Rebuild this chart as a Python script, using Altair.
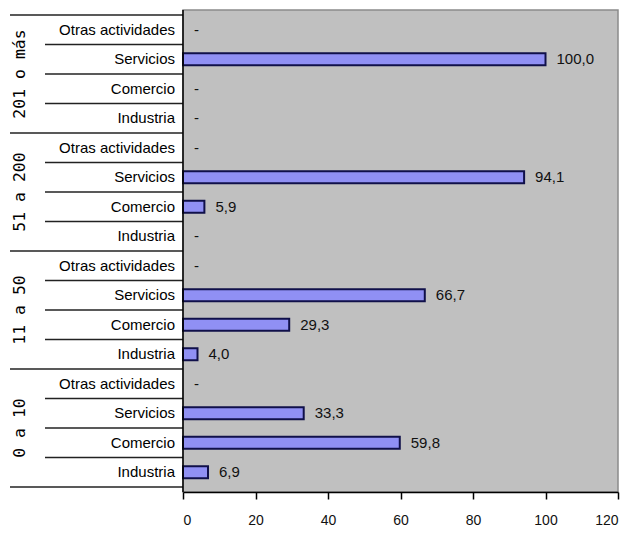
import altair as alt
import pandas as pd

groups = ["201 o más", "51 a 200", "11 a 50", "0 a 10"]
sectors = ["Otras actividades", "Servicios", "Comercio", "Industria"]
values = {
    "201 o más": [None, 100.0, None, None],
    "51 a 200": [None, 94.1, 5.9, None],
    "11 a 50": [None, 66.7, 29.3, 4.0],
    "0 a 10": [None, 33.3, 59.8, 6.9],
}
x_ticks = [0, 20, 40, 60, 80, 100, 120]

recs = []
idx = 0
for g in groups:
    for j, s in enumerate(sectors):
        v = values[g][j]
        recs.append({
            "grupo": g, "sector": s, "idx": idx, "valor": v,
            "vpos": v if v is not None else 0,
            "etiqueta": (f"{v:.1f}".replace(".", ",") if v is not None else "-"),
            "sep": idx + 0.5, "last": j == len(sectors) - 1,
        })
        idx += 1
df = pd.DataFrame(recs)
bars_df = df[df["valor"].notna()]
grp_df = df.groupby("grupo", sort=False)["idx"].mean().reset_index()
sub_sep = df[~df["last"]][["sep"]]
long_sep = pd.concat([pd.DataFrame({"sep": [-0.5]}), df[df["last"]][["sep"]]])

W, H = 435, 482
yscale = alt.Scale(domain=[-0.5, len(df) - 0.5], reverse=True, nice=False, zero=False)
xscale = alt.Scale(domain=[0, 120], nice=False)
Y = alt.Y("idx:Q", scale=yscale, axis=None)

base_x = alt.X("vpos:Q", scale=xscale,
               axis=alt.Axis(values=x_ticks, title=None, grid=False, domainColor="#000",
                             domainWidth=1.5, tickColor="#000", tickSize=7, tickWidth=1.5,
                             labelFont="Liberation Sans", labelFontSize=14,
                             labelColor="#111", labelPadding=14))

bars = alt.Chart(bars_df).mark_bar(orient="horizontal", size=12, color="#9090f4",
                                   stroke="#10104a", strokeWidth=2).encode(
    x=base_x, x2=alt.datum(0), y=Y)

vals = alt.Chart(df).mark_text(align="left", dx=11, font="Liberation Sans", fontSize=15,
                               color="#111").encode(
    x=alt.X("vpos:Q", scale=xscale), y=Y, text="etiqueta:N")

sub_labels = alt.Chart(df).mark_text(align="right", baseline="middle", font="Liberation Sans",
                                     fontSize=15, color="#000").encode(
    x=alt.value(-8), y=Y, text="sector:N")

grp_labels = alt.Chart(grp_df).mark_text(angle=270, align="center", baseline="middle",
                                         font="DejaVu Sans Mono", fontSize=16.5, color="#000").encode(
    x=alt.value(-163), y=Y, text="grupo:N")

sub_rules = alt.Chart(sub_sep).mark_rule(color="#222", strokeWidth=1.5).encode(
    x=alt.value(-138), x2=alt.value(0), y=alt.Y("sep:Q", scale=yscale, axis=None))
long_rules = alt.Chart(long_sep).mark_rule(color="#222", strokeWidth=1.5).encode(
    x=alt.value(-173), x2=alt.value(0), y=alt.Y("sep:Q", scale=yscale, axis=None))

left_line = alt.Chart(pd.DataFrame({"x0": [0]})).mark_rule(color="#000", strokeWidth=1.5).encode(
    x=alt.X("x0:Q", scale=xscale), y=alt.value(0), y2=alt.value(H))

chart = alt.layer(bars, vals, sub_rules, long_rules, left_line, sub_labels, grp_labels).properties(
    width=W, height=H,
    autosize=alt.AutoSizeParams(type="none"),
    padding={"left": 175, "top": 2, "right": 5, "bottom": 40},
    background="#ffffff",
).configure_view(fill="#c0c0c0", stroke="#8a8a8a", strokeWidth=1.5)

chart.save("out.html", embed_options={"renderer": "svg", "actions": False})
